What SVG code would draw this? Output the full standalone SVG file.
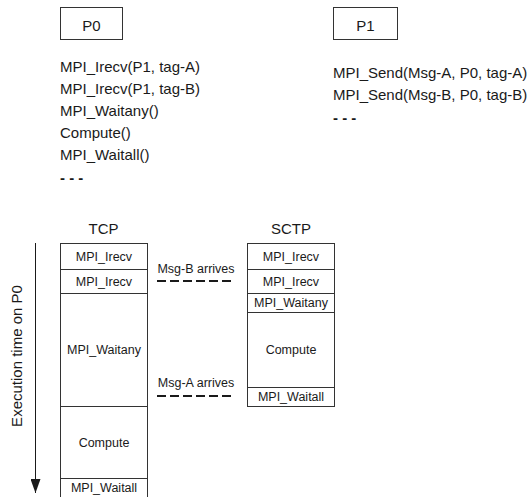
<svg xmlns="http://www.w3.org/2000/svg" width="531" height="497" viewBox="0 0 531 497">
<style>
text{font-family:"Liberation Sans",Arial,sans-serif;fill:#1a1a1a}
.code{font-size:15px}
.dots{font-size:15px;font-weight:bold}
.title{font-size:15px;text-anchor:middle}
.cell{font-size:12.5px;text-anchor:middle}
.box{fill:#fff;stroke:#333;stroke-width:1}
.div{stroke:#333;stroke-width:1}
.msg{stroke:#1a1a1a;stroke-width:2;stroke-dasharray:9 4;fill:none}
</style>
<defs>
<marker id="ah" viewBox="0 0 14 10" refX="14" refY="5" markerWidth="14" markerHeight="10" markerUnits="userSpaceOnUse" orient="auto">
<path d="M0,0 L14,5 L0,10 Z" fill="#1a1a1a"/>
</marker>
</defs>
<rect width="531" height="497" fill="#fff"/>

<g id="p0">
<rect class="box" x="60.5" y="7.5" width="62" height="32"/>
<text class="title" x="91.5" y="31">P0</text>
<text class="code" x="60" y="72">MPI_Irecv(P1, tag-A)</text>
<text class="code" x="60" y="94">MPI_Irecv(P1, tag-B)</text>
<text class="code" x="60" y="116">MPI_Waitany()</text>
<text class="code" x="60" y="138">Compute()</text>
<text class="code" x="60" y="160">MPI_Waitall()</text>
<text class="dots" x="60" y="183">- - -</text>
</g>

<g id="p1">
<rect class="box" x="333.5" y="7.5" width="64" height="32"/>
<text class="title" x="365.5" y="31">P1</text>
<text class="code" x="333" y="78">MPI_Send(Msg-A, P0, tag-A)</text>
<text class="code" x="333" y="100">MPI_Send(Msg-B, P0, tag-B)</text>
<text class="dots" x="333" y="123">- - -</text>
</g>

<g id="axis-label">
<text class="title" transform="translate(22,356) rotate(-90)">Execution time on P0</text>
</g>

<g id="tcp">
<text class="title" x="103.5" y="234">TCP</text>
<rect class="box" x="60.5" y="243.5" width="87" height="260"/>
<line class="div" x1="60.5" y1="269.5" x2="147.5" y2="269.5"/>
<line class="div" x1="60.5" y1="293.5" x2="147.5" y2="293.5"/>
<line class="div" x1="60.5" y1="406.5" x2="147.5" y2="406.5"/>
<line class="div" x1="60.5" y1="478.5" x2="147.5" y2="478.5"/>
<text class="cell" x="104" y="261">MPI_Irecv</text>
<text class="cell" x="104" y="286">MPI_Irecv</text>
<text class="cell" x="104" y="354">MPI_Waitany</text>
<text class="cell" x="104" y="447">Compute</text>
<text class="cell" x="104" y="492">MPI_Waitall</text>
</g>

<g id="sctp">
<text class="title" x="291" y="234">SCTP</text>
<rect class="box" x="247.5" y="243.5" width="87" height="163"/>
<line class="div" x1="247.5" y1="269.5" x2="334.5" y2="269.5"/>
<line class="div" x1="247.5" y1="293.5" x2="334.5" y2="293.5"/>
<line class="div" x1="247.5" y1="312.5" x2="334.5" y2="312.5"/>
<line class="div" x1="247.5" y1="387.5" x2="334.5" y2="387.5"/>
<text class="cell" x="291" y="261">MPI_Irecv</text>
<text class="cell" x="291" y="286">MPI_Irecv</text>
<text class="cell" x="291" y="307">MPI_Waitany</text>
<text class="cell" x="291" y="354">Compute</text>
<text class="cell" x="291" y="401">MPI_Waitall</text>
</g>

<g id="msg-b">
<text class="cell" x="196" y="273">Msg-B arrives</text>
</g>
<g id="msg-a">
<text class="cell" x="196" y="387">Msg-A arrives</text>
</g>

<g id="connectors">
<line x1="35.5" y1="243" x2="35.5" y2="493" stroke="#1a1a1a" stroke-width="1" marker-end="url(#ah)"/>
<line class="msg" x1="157" y1="281" x2="231" y2="281"/>
<line class="msg" x1="157" y1="396" x2="231" y2="396"/>
</g>
</svg>
